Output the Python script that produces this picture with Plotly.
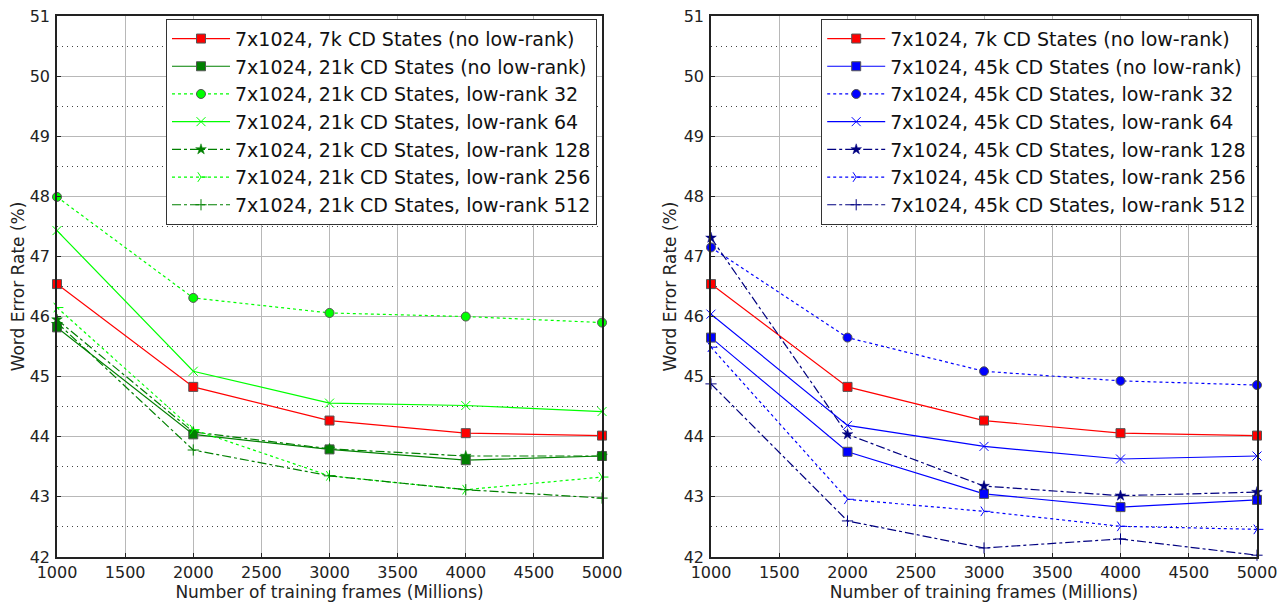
import plotly.graph_objects as go

x_frames = [1000, 2000, 3000, 4000, 5000]

# Left panel (21k CD states)
left_7k = [46.54, 44.83, 44.27, 44.06, 44.02]
left_21k = [45.82, 44.04, 43.79, 43.61, 43.68]
left_lr32 = [47.99, 46.31, 46.06, 46.00, 45.90]
left_lr64 = [47.43, 45.09, 44.56, 44.52, 44.42]
left_lr128 = [45.95, 44.08, 43.80, 43.68, 43.68]
left_lr256 = [46.15, 44.12, 43.35, 43.12, 43.33]
left_lr512 = [45.90, 43.78, 43.35, 43.12, 42.98]

# Right panel (45k CD states)
right_7k = [46.54, 44.83, 44.27, 44.06, 44.02]
right_45k = [45.65, 43.75, 43.05, 42.83, 42.95]
right_lr32 = [47.15, 45.65, 45.09, 44.93, 44.86]
right_lr64 = [46.04, 44.19, 43.84, 43.63, 43.68]
right_lr128 = [47.31, 44.04, 43.18, 43.02, 43.08]
right_lr256 = [45.49, 42.96, 42.76, 42.51, 42.46]
right_lr512 = [44.88, 42.60, 42.15, 42.30, 42.03]

left_names = [
    "7x1024, 7k CD States (no low-rank)",
    "7x1024, 21k CD States (no low-rank)",
    "7x1024, 21k CD States, low-rank 32",
    "7x1024, 21k CD States, low-rank 64",
    "7x1024, 21k CD States, low-rank 128",
    "7x1024, 21k CD States, low-rank 256",
    "7x1024, 21k CD States, low-rank 512",
]
right_names = [
    "7x1024, 7k CD States (no low-rank)",
    "7x1024, 45k CD States (no low-rank)",
    "7x1024, 45k CD States, low-rank 32",
    "7x1024, 45k CD States, low-rank 64",
    "7x1024, 45k CD States, low-rank 128",
    "7x1024, 45k CD States, low-rank 256",
    "7x1024, 45k CD States, low-rank 512",
]

RED = "#ff0000"
DGREEN = "#008000"
LGREEN = "#00ff00"
BLUE = "#0000ff"
NAVY = "#000080"
EDGE = "#555555"

def styles(main, light, dark):
    return [
        dict(color=RED, dash="solid", symbol="square", size=9, edge=EDGE, ew=1),
        dict(color=main, dash="solid", symbol="square", size=9, edge=EDGE, ew=1),
        dict(color=light, dash="dot", symbol="circle", size=9, edge=EDGE, ew=1),
        dict(color=light, dash="solid", symbol="x-thin", size=9, edge=light, ew=1),
        dict(color=dark, dash="dashdot", symbol="star", size=8, edge=dark, ew=0.5),
        dict(color=light, dash="dot", symbol="y-right", size=8, edge=light, ew=1),
        dict(color=dark, dash="dashdot", symbol="cross-thin", size=8, edge=dark, ew=1),
    ]

left_series = [left_7k, left_21k, left_lr32, left_lr64, left_lr128, left_lr256, left_lr512]
right_series = [right_7k, right_45k, right_lr32, right_lr64, right_lr128, right_lr256, right_lr512]
left_styles = styles(DGREEN, LGREEN, DGREEN)
right_styles = styles(BLUE, BLUE, NAVY)

fig = go.Figure()

def add_panel(series, names, sty, xa, ya, legend):
    for vals, name, s in zip(series, names, sty):
        fig.add_trace(go.Scatter(
            x=x_frames, y=vals, name=name, mode="lines+markers",
            xaxis=xa, yaxis=ya, legend=legend,
            line=dict(color=s["color"], dash=s["dash"], width=1.2),
            marker=dict(symbol=s["symbol"], size=s["size"], color=s["color"],
                        line=dict(color=s["edge"], width=s["ew"])),
            cliponaxis=False,
        ))

add_panel(left_series, left_names, left_styles, "x", "y", "legend")
add_panel(right_series, right_names, right_styles, "x2", "y2", "legend2")

font = "DejaVu Sans"
axis_common = dict(
    showline=True, linecolor="#222222", linewidth=1.6, mirror=True,
    showgrid=True, gridcolor="#b8b8b8", gridwidth=1,
    ticks="inside", ticklen=4, tickcolor="#222222",
    tickfont=dict(family=font, size=16, color="#222222"),
    zeroline=False, automargin=False, ticklabeloverflow="allow",
)
xcommon = dict(axis_common, range=[1000, 5000], dtick=500, tick0=1000,
               ticklabelstandoff=0,
               title=dict(text="Number of training frames (Millions)",
                          font=dict(family=font, size=17, color="#222222"), standoff=0))
ycommon = dict(axis_common, range=[42, 51], dtick=1,
               ticklabelstandoff=2,
               minor=dict(dtick=0.5, showgrid=True, gridcolor="#444444", griddash="1px,4px", gridwidth=1),
               title=dict(text="Word Error Rate (%)",
                          font=dict(family=font, size=17, color="#222222"), standoff=3))

leg_common = dict(
    bgcolor="white", bordercolor="#333333", borderwidth=1,
    font=dict(family=font, size=19, color="#111111"),
    xanchor="right", yanchor="top", itemwidth=58,
    tracegroupgap=0,
)

fig.update_layout(
    width=1288, height=602,
    margin=dict(l=49, r=39, t=8, b=53),
    paper_bgcolor="white", plot_bgcolor="white",
    font=dict(family=font, color="black"),
    xaxis=dict(xcommon, domain=[0, 0.4542], anchor="y"),
    yaxis=dict(ycommon, domain=[0, 1], anchor="x"),
    xaxis2=dict(xcommon, domain=[0.545, 1.0], anchor="y2"),
    yaxis2=dict(ycommon, domain=[0, 1], anchor="x2"),
    legend=dict(leg_common, x=0.45, y=0.995),
    legend2=dict(leg_common, x=0.996, y=0.995),
)

fig.write_html("out.html")
